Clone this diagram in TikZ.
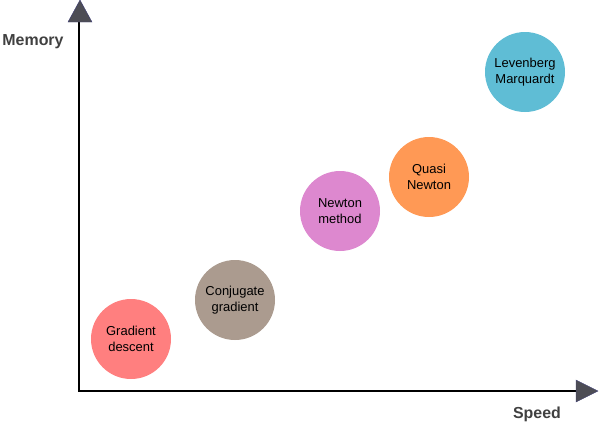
\documentclass[tikz,border=0pt]{standalone}
\usepackage{fontspec}
\setmainfont{Liberation Sans}
\definecolor{gdc}{HTML}{FF7F7F}
\definecolor{cgc}{HTML}{AB9B8F}
\definecolor{nmc}{HTML}{DD88CF}
\definecolor{qnc}{HTML}{FF9955}
\definecolor{lmc}{HTML}{5FBDD5}
\definecolor{axc}{HTML}{4D4D55}
\definecolor{lblc}{HTML}{404040}
\begin{document}
\begin{tikzpicture}[x=1bp,y=-1bp,
  algo/.style={circle,minimum size=80bp,inner sep=0pt,align=center,
    font=\fontsize{13}{16}\selectfont,text=black},
  axis/.style={line width=2bp,black},
  tip/.style={fill=axc,draw=axc!80!blue,line width=0.4bp},
  axlabel/.style={font=\fontsize{16}{18}\selectfont\bfseries,text=lblc}]
\useasboundingbox (0,0) rectangle (600,424);
\coordinate (O) at (79,391);
\coordinate (ytop) at (79,22);
\coordinate (xend) at (576,391);
\draw[axis] (O) -- (ytop);
\draw[axis] ([xshift=-1bp]O) -- (xend);
\filldraw[tip] (68,22) -- (80,0) -- (92,22) -- cycle;
\filldraw[tip] (576,380) -- (598,391) -- (576,402) -- cycle;
\node[axlabel] (mem) at (33,42) {Memory};
\node[axlabel] (spd) at (537,414) {Speed};
\node[algo,fill=gdc] (gd) at (131,339) {Gradient\\descent};
\node[algo,fill=cgc] (cg) at (235,300) {Conjugate\\gradient};
\node[algo,fill=nmc] (nm) at (340,211) {Newton\\method};
\node[algo,fill=qnc] (qn) at (429,177) {Quasi\\Newton};
\node[algo,fill=lmc] (lm) at (525,72) {Levenberg\\Marquardt};
\end{tikzpicture}
\end{document}
